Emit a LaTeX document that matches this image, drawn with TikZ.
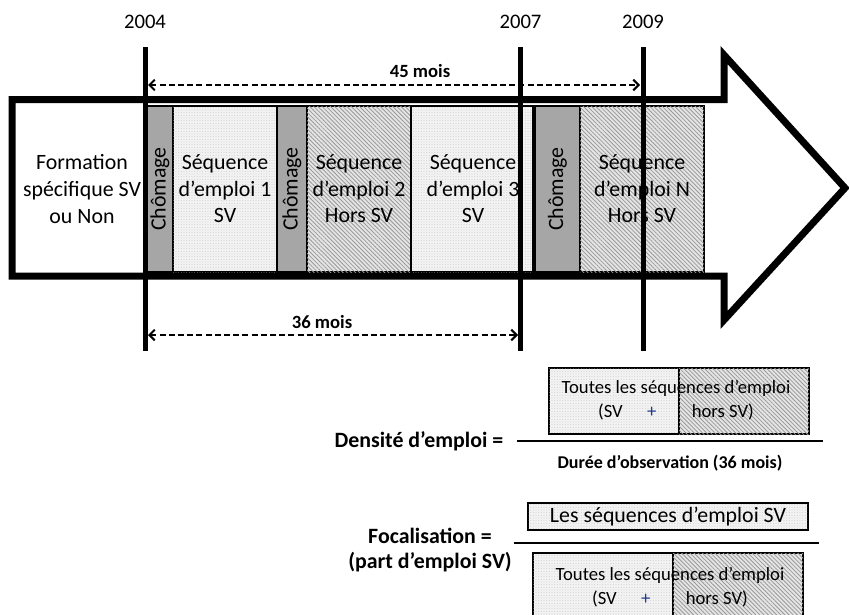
\documentclass[tikz,border=0pt]{standalone}
\usepackage{fontspec}
\setmainfont{Carlito}
\usetikzlibrary{arrows.meta, patterns.meta}
\definecolor{chomage}{RGB}{166,166,166}
\definecolor{plusblue}{RGB}{31,56,140}
\newcommand{\px}{0.75pt}
\newcommand{\boxfont}{\fontsize{16.4}{19.9}\selectfont}
\newcommand{\yearfont}{\fontsize{15.5}{18}\selectfont}
\newcommand{\moisfont}{\fontsize{14}{16}\selectfont\bfseries}
\newcommand{\formfont}{\fontsize{14}{18}\selectfont}
\newcommand{\labelfont}{\fontsize{16.4}{18.8}\selectfont\bfseries}
\tikzset{
  seqdot/.style={draw=black, line width=1pt, fill=gray!10,
    postaction={pattern={Dots[distance=2pt, radius=0.3pt]}, pattern color=gray!60}},
  seqhatch/.style={draw=black, line width=1pt, fill=gray!20,
    postaction={pattern={Lines[angle=-45, distance=2.2pt, line width=0.6pt]}, pattern color=gray!80}},
  chombox/.style={draw=black, line width=1pt, fill=chomage, inner sep=0pt,
    rotate=90, minimum width=166*\px, font=\boxfont},
  seqbox/.style={inner sep=0pt, minimum height=166*\px, align=center, font=\boxfont},
  mesure/.style={line width=2*\px, dash pattern=on 4.5pt off 2.4pt,
    {Straight Barb[length=4pt, width=8pt]}-{Straight Barb[length=4pt, width=8pt]}},
}

\begin{document}
\begin{tikzpicture}[x=0.75pt, y=-0.75pt]
    \useasboundingbox (0,0) rectangle (849,614);

    % grande fleche
    \draw[line width=7*\px, fill=white] (12,99.5) -- (724,99.5) -- (724,55) -- (845,188)
        -- (724,320) -- (724,276) -- (12,276) -- cycle;
    \node[align=center, font=\boxfont] (form) at (82,189) {Formation\\spécifique SV\\ou Non};

    % sequences
    \node[chombox, minimum height=26*\px] (c1) at (160,189) {Chômage};
    \node[seqbox, seqdot, minimum width=104*\px] (s1) at (225,189) {Séquence\\d’emploi 1\\SV};
    \node[chombox, minimum height=30*\px] (c2) at (292,189) {Chômage};
    \node[seqbox, seqhatch, minimum width=104*\px] (s2) at (359,189) {Séquence\\d’emploi 2\\Hors SV};
    \node[seqbox, seqdot, minimum width=124*\px] (s3) at (473,189) {Séquence\\d’emploi 3\\SV};
    \node[chombox, minimum height=45*\px] (c3) at (557.5,189) {Chômage};
    \node[seqbox, seqhatch, minimum width=124*\px] (sN) at (642,189) {Séquence\\d’emploi N\\Hors SV};
    \draw[line width=4*\px] (c3.north west) -- (c3.north east);

    % annees
    \foreach \yr/\x in {2004/145, 2007/520.5, 2009/643} {
        \node[font=\yearfont] (y\yr) at (\x,22) {\yr};
        \coordinate (top\yr) at (\x,47);
        \coordinate (bot\yr) at (\x,351);
        \draw[line width=5*\px] (top\yr) -- (bot\yr);
    }

    \coordinate (m45a) at (148,85);
    \coordinate (m45b) at (640,85);
    \draw[mesure] (m45a) -- (m45b);
    \node[font=\moisfont] (l45) at (420,71) {45 mois};
    \coordinate (m36a) at (148,335);
    \coordinate (m36b) at (518,335);
    \draw[mesure] (m36a) -- (m36b);
    \node[font=\moisfont] (l36) at (322,322) {36 mois};

    % densite d'emploi
    \draw[seqdot] (549,368) rectangle (679,434);
    \draw[seqhatch] (679,368) rectangle (809,434);
    \node[align=center, font=\formfont] (num1) at (676,400)
        {Toutes les séquences d’emploi\\(SV\hspace{1.3em}{\color{plusblue}+}\hspace{1.9em}hors SV)};
    \draw[line width=2.5*\px] (517,441) -- (823,441);
    \node[anchor=east, font=\labelfont] (dens) at (508,441) {Densité d’emploi =};
    \node[font=\fontsize{13.5}{16}\selectfont\bfseries] (den1) at (670,463) {Durée d’observation (36 mois)};

    % focalisation
    \node[seqdot, font=\boxfont, minimum width=280*\px, minimum height=27*\px, inner sep=0pt] (num2) at (668,516.5) {Les séquences d’emploi SV};
    \draw[line width=2.5*\px] (514,543) -- (819,543);
    \node[align=center, font=\labelfont] (foc) at (430,550) {Focalisation =\\(part d’emploi SV)};
    \draw[seqdot] (533,553) rectangle (673,640);
    \draw[seqhatch] (673,553) rectangle (803,640);
    \node[align=center, font=\formfont] (den2) at (670,587)
        {Toutes les séquences d’emploi\\(SV\hspace{1.3em}{\color{plusblue}+}\hspace{1.9em}hors SV)};

\end{tikzpicture}
\end{document}
